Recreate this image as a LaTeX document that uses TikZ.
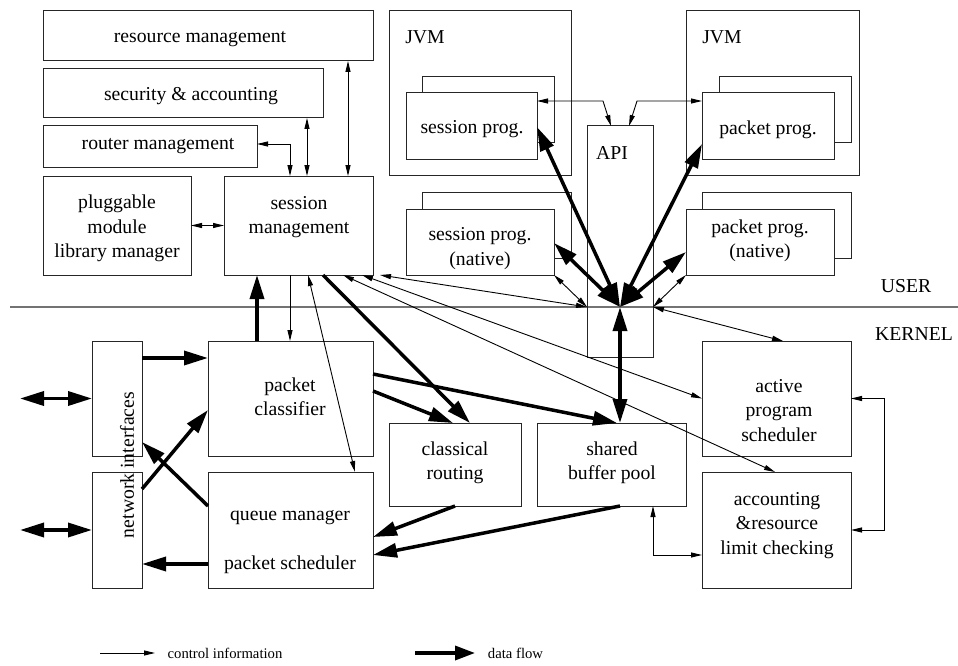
\documentclass[tikz,border=0pt]{standalone}
\usepackage{fontspec}
\setmainfont{Liberation Serif}
\usetikzlibrary{arrows.meta,fit}
\begin{document}
\begin{tikzpicture}[x=1pt,y=-1pt,
  box/.style={draw=black!85,line width=1pt,inner sep=0pt,outer sep=0pt},
  front/.style={box,fill=white},
  txt/.style={align=center,inner sep=0pt,font=\fontsize{19.7}{24.5}\selectfont},
  small/.style={inner sep=0pt,font=\fontsize{14.7}{17}\selectfont},
  ctl/.style={line width=0.9pt,>={Triangle[length=11pt,width=5pt]}},
  dat/.style={line width=3.5pt,>={Triangle[length=24pt,width=14pt]}},
  divider/.style={draw=black!55,line width=1.4pt}]
\path[use as bounding box] (0,0) rectangle (958,666);

% user / kernel boundary
\coordinate (dl) at (10,307);
\coordinate (dr) at (958,307);
\draw[divider] (dl) -- (dr);

% management boxes
\node[box,fit={(43,11) (373,61)}] (rm) {};
\node[box,fit={(43,69) (323,118)}] (sa) {};
\node[box,fit={(43,126) (257,167)}] (rt) {};
\node[box,fit={(43,176) (191,275)}] (pl) {};
\node[box,fit={(224,176) (373,275)}] (sm) {};

% virtual machines and user programs
\node[box,fit={(389,11) (571,175)}] (jvma) {};
\node[box,fit={(686,11) (859,175)}] (jvmb) {};
\node[box,fit={(422,77) (554,143)}] (spb) {};
\node[front,fit={(406,93) (537,159)}] (sp) {};
\node[box,fit={(719,77) (851,143)}] (ppb) {};
\node[front,fit={(702,93) (834,159)}] (pp) {};
\node[box,fit={(422,192) (571,258)}] (snb) {};
\node[front,fit={(406,209) (554,275)}] (sn) {};
\node[box,fit={(702,192) (851,258)}] (pnb) {};
\node[front,fit={(686,209) (834,275)}] (pn) {};
\node[box,fit={(587,126) (653,357)}] (api) {};

% kernel boxes
\node[box,fit={(92,341) (142,456)}] (nia) {};
\node[box,fit={(92,472) (142,588)}] (nib) {};
\node[box,fit={(208,341) (373,456)}] (pc) {};
\node[box,fit={(208,472) (373,588)}] (qm) {};
\node[box,fit={(389,423) (521,506)}] (cr) {};
\node[box,fit={(537,423) (686,506)}] (sb) {};
\node[box,fit={(702,341) (851,456)}] (ap) {};
\node[box,fit={(702,472) (851,588)}] (ac) {};

% labels
\node[txt] (rm-t) at (200,39) {resource management};
\node[txt] (sa-t) at (191,96.5) {security \& accounting};
\node[txt] (rt-t) at (158,146) {router management};
\node[txt] (pl-t) at (117,228.5) {pluggable\\module\\library manager};
\node[txt] (sm-t) at (299,217) {session\\management};
\node[txt] (jvma-t) at (425,37) {JVM};
\node[txt] (jvmb-t) at (722,37) {JVM};
\node[txt] (sp-t) at (472,129.5) {session prog.};
\node[txt] (pp-t) at (768,129.5) {packet prog.};
\node[txt] (api-t) at (612,153) {API};
\node[txt] (sn-t) at (480,248.5) {session prog.\\(native)};
\node[txt] (pn-t) at (760,241) {packet prog.\\(native)};
\node[txt] (user-t) at (906,286) {USER};
\node[txt] (kern-t) at (914,334.5) {KERNEL};
\node[txt] (pc-t) at (290,397) {packet\\classifier};
\node[txt] (qm-t) at (290,542.5) {queue manager\\[24.5pt]packet scheduler};
\node[txt] (cr-t) at (455,463) {classical\\routing};
\node[txt] (sb-t) at (612,463) {shared\\buffer pool};
\node[txt] (ap-t) at (779,410.5) {active\\program\\scheduler};
\node[txt] (ac-t) at (777,525.5) {accounting\\\&resource\\limit checking};
\node[txt,rotate=90] (ni-t) at (127,465) {network interfaces};

% junction where the user programs meet the kernel
\coordinate (j) at (620,307);

% control connectors in user space
\draw[ctl,<->] (348,0 |- rm.south) -- (348,0 |- sm.north);
\draw[ctl,<->] (307,0 |- sa.south) -- (307,0 |- sm.north);
\draw[ctl,<->] (rt.east |- 0,144) -| (290,0 |- sm.north);
\draw[ctl,<->] (pl.east) -- (sm.west);
\draw[ctl,<->] (sp.east |- 0,101) -- (603,101) -- (611,0 |- api.north);
\draw[ctl,<->] (pp.west |- 0,101) -- (637,101) -- (629,0 |- api.north);
\draw[ctl,<->] (sn.south east) -- (api.west |- j);
\draw[ctl,<->] (pn.south west) -- (api.east |- j);

% control connectors across the boundary
\draw[ctl,<->] (380,0 |- sm.south) -- (api.west |- j);
\draw[ctl,<->] (362,0 |- sm.south) -- (ap.west);
\draw[ctl,<->] (343,0 |- sm.south) -- (775,0 |- ac.north);
\draw[ctl,<->] (308,0 |- sm.south) -- (355,0 |- qm.north);
\draw[ctl,->] (290,0 |- sm.south) -- (290,0 |- pc.north);
\draw[ctl,<->] (api.east |- j) -- (783,0 |- ap.north);

% control connectors in the kernel
\draw[ctl,<->] (653,0 |- sb.south) |- (ac.west |- 0,555);
\draw[ctl,<->] (ap.east) -- (884,0 |- ap.east) -- (884,0 |- ac.east) -- (ac.east);

% data flow
\draw[dat,<->] (sp.east |- 0,127) -- (j);
\draw[dat,<->] (pp.west |- 0,144) -- (j);
\draw[dat,<->] (sn.east |- 0,243) -- (j);
\draw[dat,<->] (pn.west |- 0,252) -- (j);
\draw[dat,<->] (j) -- (620,0 |- sb.north);
\draw[dat,->] (257,0 |- pc.north) -- (257,0 |- sm.south);
\draw[dat,->] (323,0 |- sm.south) -- (470,0 |- cr.north);
\draw[dat,->] (nia.east |- 0,358) -- (pc.west |- 0,358);
\draw[dat,->] (nib.east |- 0,489) -- (pc.west |- 0,410);
\draw[dat,->] (qm.west |- 0,506) -- (nia.east |- 0,442);
\draw[dat,->] (qm.west |- 0,564) -- (nib.east |- 0,564);
\coordinate (ea) at (20,398.5);
\coordinate (eb) at (20,530);
\draw[dat,<->] (ea) -- (nia.west);
\draw[dat,<->] (eb) -- (nib.west);
\draw[dat,->] (pc.east |- 0,374) -- (617,0 |- sb.north);
\draw[dat,->] (pc.east |- 0,391) -- (453,0 |- cr.north);
\draw[dat,->] (455,0 |- cr.south) -- (qm.east |- 0,537);
\draw[dat,->] (620,0 |- sb.south) -- (qm.east |- 0,555);

% legend
\coordinate (la) at (100,653);
\coordinate (lb) at (155,653);
\coordinate (lc) at (415,653);
\coordinate (ld) at (475,653);
\draw[ctl,->] (la) -- (lb);
\draw[dat,->,>={Triangle[length=20pt,width=14pt]}] (lc) -- (ld);
\node[small] (lt1) at (225,653) {control information};
\node[small] (lt2) at (515.5,653) {data flow};
\end{tikzpicture}
\end{document}
